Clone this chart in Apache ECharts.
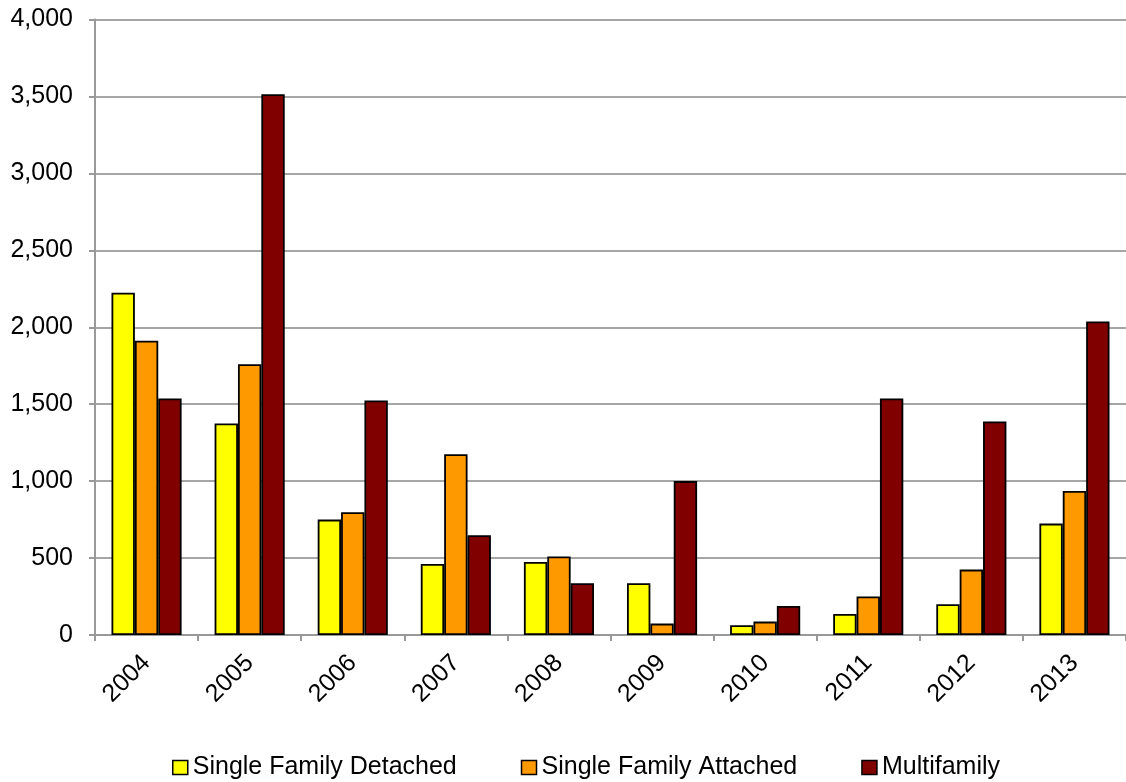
<!DOCTYPE html>
<html>
<head>
<meta charset="utf-8">
<script src="https://cdn.jsdelivr.net/npm/echarts@6/dist/echarts.min.js"></script>
<style>
  html, body { margin: 0; padding: 0; background: #fff; }
  #chart { width: 1126px; height: 782px; }
</style>
</head>
<body>
<div id="chart"></div>
<script>
// Housing units by type, 2004-2013
const years = ['2004', '2005', '2006', '2007', '2008', '2009', '2010', '2011', '2012', '2013'];
const singleDetached = [2224, 1375, 750, 462, 475, 336, 63, 137, 200, 724];
const singleAttached = [1912, 1760, 798, 1175, 510, 74, 87, 250, 425, 936];
const multifamily = [1537, 3514, 1524, 648, 336, 1000, 189, 1537, 1388, 2038];

const FONT = '"Liberation Sans", Arial, sans-serif';
const FS = 25;

function barSeries(name, data, color) {
  return {
    name: name,
    type: 'bar',
    data: data,
    barGap: '0%',
    barCategoryGap: '32%',
    itemStyle: { color: color, borderColor: '#000', borderWidth: 1.8 }
  };
}

const chart = echarts.init(document.getElementById('chart'), null, { renderer: 'canvas' });
chart.setOption({
  animation: false,
  backgroundColor: '#fff',
  grid: { left: 95, right: -7, top: 19.5, bottom: 147, containLabel: false },
  legend: {
    bottom: -3,
    left: 167,
    itemWidth: 15,
    itemHeight: 14,
    itemGap: 64,
    icon: 'rect',
    textStyle: { fontFamily: FONT, fontSize: FS, color: '#000' },
    data: [
      { name: 'Single Family Detached', itemStyle: { borderColor: '#000', borderWidth: 1.5 } },
      { name: 'Single Family Attached', itemStyle: { borderColor: '#000', borderWidth: 1.5 } },
      { name: 'Multifamily', itemStyle: { borderColor: '#000', borderWidth: 1.5 } }
    ]
  },
  xAxis: {
    type: 'category',
    data: years,
    axisLine: { lineStyle: { color: '#999', width: 2 } },
    axisTick: { show: true, length: 6, lineStyle: { color: '#999', width: 2 } },
    axisLabel: { rotate: 45, fontFamily: FONT, fontSize: FS, color: '#000', margin: 24 }
  },
  yAxis: {
    type: 'value',
    min: 0,
    max: 4000,
    interval: 500,
    axisLine: { show: true, lineStyle: { color: '#999', width: 2 } },
    axisTick: { show: true, length: 6, lineStyle: { color: '#999', width: 2 } },
    splitLine: { lineStyle: { color: '#a6a6a6', width: 2 } },
    axisLabel: {
      fontFamily: FONT, fontSize: FS, color: '#000', margin: 22,
      formatter: v => v.toLocaleString('en-US')
    }
  },
  series: [
    barSeries('Single Family Detached', singleDetached, '#ffff00'),
    barSeries('Single Family Attached', singleAttached, '#ff9900'),
    barSeries('Multifamily', multifamily, '#800000')
  ]
});
</script>
</body>
</html>
